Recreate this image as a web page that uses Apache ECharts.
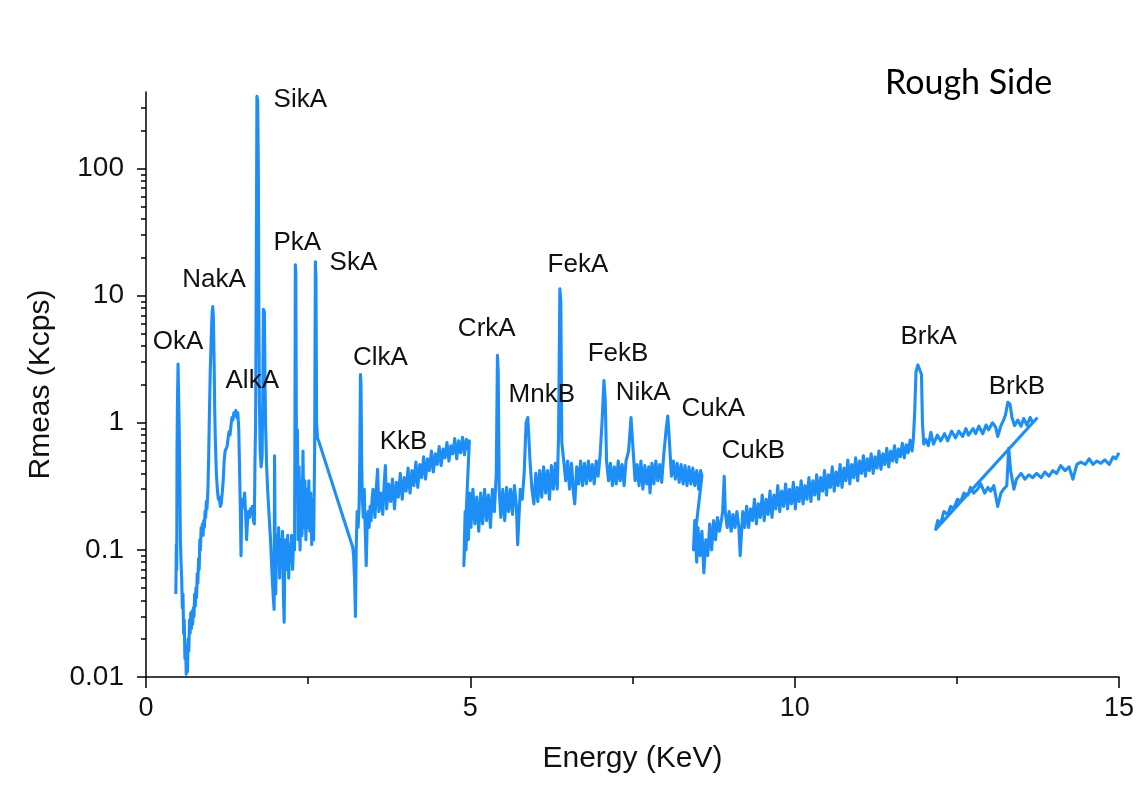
<!DOCTYPE html>
<html>
<head>
<meta charset="utf-8">
<script src="https://cdn.jsdelivr.net/npm/echarts@6/dist/echarts.min.js"></script>
<style>
html,body{margin:0;padding:0;background:#ffffff;}
#chart{width:1139px;height:804px;}
</style>
</head>
<body>
<div id="chart"></div>
<script>
// ---- data: [energy keV, Rmeas Kcps] ----
const scan1 = [
[0.46,0.045],[0.468,0.11],[0.474,0.07],[0.478,0.6],[0.484,1.3],[0.494,2.9],[0.505,2.8],[0.512,0.9],[0.52,0.4],[0.53,0.12],[0.54,0.08],[0.55,0.06],[0.56,0.035],[0.57,0.045],[0.58,0.022],[0.59,0.028],[0.60,0.014],[0.61,0.018],[0.62,0.0105],[0.63,0.015],[0.64,0.011],[0.65,0.02],[0.66,0.016],[0.67,0.028],[0.68,0.022],[0.69,0.032],[0.70,0.024],[0.71,0.033],[0.72,0.026],[0.73,0.035],[0.74,0.03],[0.75,0.045],[0.76,0.036],[0.77,0.05],[0.78,0.042],[0.79,0.065],[0.80,0.055],[0.81,0.085],[0.82,0.07],[0.83,0.12],[0.84,0.1],[0.85,0.15],[0.86,0.13],[0.87,0.16],[0.88,0.13],[0.89,0.17],[0.90,0.15],[0.91,0.2],[0.92,0.18],[0.93,0.24],[0.94,0.21],[0.955,0.3],[0.965,0.5],[0.975,1.0],[0.99,2.5],[1.005,4.5],[1.02,7.5],[1.03,8.2],[1.04,6.5],[1.05,3.0],[1.06,1.2],[1.07,0.7],[1.085,0.4],[1.10,0.3],[1.115,0.25],[1.13,0.26],[1.145,0.22],[1.16,0.23],[1.175,0.28],[1.19,0.35],[1.205,0.5],[1.22,0.6],[1.235,0.58],[1.25,0.65],[1.265,0.75],[1.28,0.85],[1.295,0.8],[1.31,0.95],[1.325,1.1],[1.34,1.05],[1.355,1.2],[1.37,1.15],[1.385,1.25],[1.40,1.1],[1.415,1.2],[1.43,0.9],[1.44,0.5],[1.455,0.2],[1.465,0.09],[1.475,0.2],[1.49,0.25],[1.505,0.22],[1.52,0.28],[1.535,0.2],[1.55,0.12],[1.565,0.17],[1.58,0.2],[1.595,0.18],[1.61,0.21],[1.625,0.2],[1.64,0.22],[1.655,0.17],[1.67,0.16],[1.68,0.5],[1.69,1.0],[1.70,15],[1.71,370],[1.722,340],[1.732,100],[1.74,8],[1.748,1.5],[1.76,0.6],[1.775,0.45],[1.79,0.55],[1.80,1.5],[1.81,7.8],[1.825,7.5],[1.835,2],[1.845,0.9],[1.86,0.45],[1.875,0.3],[1.89,0.22],[1.905,0.16],[1.92,0.12],[1.935,0.08],[1.95,0.055],[1.965,0.04],
[1.975,0.034],[1.982,0.55],[1.99,0.12],[2.00,0.045],[2.015,0.13],[2.03,0.08],[2.045,0.15],[2.06,0.06],[2.075,0.12],[2.09,0.09],[2.105,0.14],[2.12,0.04],[2.13,0.027],[2.14,0.09],[2.155,0.12],[2.17,0.07],[2.185,0.13],[2.20,0.06],[2.215,0.11],[2.23,0.08],[2.245,0.13],[2.26,0.07],[2.275,0.12],[2.29,0.1],[2.295,0.6],[2.302,17.5],[2.31,15],[2.318,0.9],[2.325,0.3],[2.335,0.88],[2.345,0.12],[2.36,0.45],[2.375,0.1],[2.39,0.35],[2.405,0.13],[2.42,0.6],[2.435,0.15],[2.45,0.35],[2.465,0.12],[2.48,0.3],[2.495,0.15],[2.51,0.35],[2.525,0.14],[2.54,0.28],[2.555,0.11],[2.57,0.25],[2.585,0.12],[2.60,0.6],[2.611,18.5],[2.62,14],[2.63,1.0],[2.645,0.75],[2.662,0.72],
[3.187,0.105],[3.20,0.09],[3.215,0.06],[3.229,0.03],[3.24,0.1],[3.255,0.2],[3.27,0.15],[3.285,0.22],[3.295,0.5],[3.306,2.4],[3.315,2.0],[3.325,0.5],[3.335,0.25],[3.35,0.18],[3.365,0.3],[3.38,0.14],[3.395,0.075],[3.41,0.16],[3.425,0.2],[3.44,0.15],[3.455,0.22],[3.47,0.17],[3.485,0.25],
[3.50,0.3],[3.53,0.18],[3.55,0.3],[3.57,0.43],[3.59,0.2],[3.62,0.28],[3.65,0.19],[3.67,0.32],[3.69,0.46],[3.71,0.21],[3.74,0.33],[3.77,0.24],[3.80,0.36],[3.83,0.21],[3.86,0.34],[3.89,0.26],[3.92,0.4],[3.95,0.25],[3.98,0.37],[4.01,0.29],[4.04,0.44],[4.07,0.28],[4.10,0.42],[4.13,0.32],[4.16,0.49],[4.19,0.31],[4.22,0.47],[4.25,0.37],[4.28,0.54],[4.31,0.36],[4.34,0.52],[4.37,0.42],[4.40,0.6],[4.43,0.41],[4.46,0.57],[4.49,0.47],[4.52,0.65],[4.55,0.46],[4.58,0.62],[4.61,0.53],[4.64,0.7],[4.67,0.5],[4.70,0.66],[4.73,0.57],[4.76,0.75],[4.79,0.52],[4.82,0.72],[4.85,0.58],[4.88,0.77],[4.91,0.56],[4.94,0.74],[4.96,0.62],[4.985,0.72],
[4.90,0.075],[4.92,0.2],[4.935,0.1],[4.95,0.25],[4.97,0.12],[4.99,0.28],[5.01,0.15],[5.04,0.3],[5.07,0.16],[5.10,0.26],[5.13,0.14],[5.16,0.28],[5.19,0.16],[5.22,0.3],[5.25,0.17],[5.28,0.27],[5.31,0.15],[5.34,0.3],[5.37,0.2],[5.40,0.4],[5.418,3.4],[5.43,2.5],[5.445,0.3],[5.47,0.18],[5.50,0.3],[5.53,0.17],[5.56,0.31],[5.59,0.2],[5.62,0.3],[5.65,0.19],[5.68,0.32],[5.71,0.22],[5.73,0.11],[5.77,0.3],[5.80,0.25],[5.83,0.4],[5.86,1.0],[5.886,1.1],[5.90,0.8],[5.92,0.5],[5.95,0.3],[5.98,0.23],[6.01,0.4],[6.04,0.24],[6.07,0.42],[6.10,0.26],[6.13,0.45],[6.16,0.28],[6.19,0.42],[6.22,0.25],[6.25,0.46],[6.28,0.3],[6.31,0.48],[6.34,0.3],[6.36,0.8],[6.38,11.3],[6.395,9],[6.41,0.7],[6.44,0.5],[6.47,0.35],[6.50,0.5],[6.53,0.3],[6.56,0.48],[6.59,0.28],[6.61,0.23],[6.64,0.45],[6.67,0.33],[6.70,0.5],[6.73,0.32],[6.76,0.48],[6.79,0.33],[6.82,0.5],[6.85,0.35],[6.88,0.47],[6.91,0.33],[6.94,0.5],[6.97,0.38],[7.00,0.55],[7.03,1.0],[7.06,2.15],[7.08,1.5],[7.10,0.5],[7.13,0.35],[7.16,0.48],[7.19,0.32],[7.22,0.45],[7.25,0.33],[7.28,0.5],[7.31,0.35],[7.34,0.47],[7.37,0.32],[7.40,0.5],[7.44,0.6],[7.477,1.1],[7.51,0.6],[7.54,0.35],[7.57,0.47],[7.60,0.32],[7.63,0.5],[7.66,0.3],[7.69,0.46],[7.72,0.33],[7.75,0.45],[7.77,0.28],[7.80,0.48],[7.83,0.33],[7.86,0.5],[7.89,0.35],[7.92,0.47],[7.95,0.34],[7.98,0.55],[8.02,0.9],[8.044,1.13],[8.07,0.7],[8.10,0.38],[8.13,0.5],[8.16,0.36],[8.19,0.48],[8.22,0.34],[8.25,0.47],[8.28,0.33],[8.31,0.46],[8.34,0.32],[8.37,0.45],[8.40,0.33],[8.43,0.44],[8.46,0.32],[8.49,0.42],[8.52,0.3],[8.55,0.42],[8.57,0.38],
[8.44,0.1],[8.46,0.17],[8.49,0.08],[8.51,0.15],[8.54,0.09],[8.57,0.14],[8.60,0.066],[8.63,0.12],[8.66,0.09],[8.69,0.16],[8.72,0.1],[8.75,0.17],[8.78,0.12],[8.81,0.18],[8.84,0.14],[8.87,0.17],[8.89,0.2],[8.914,0.38],[8.93,0.2],[8.96,0.15],[8.99,0.2],[9.02,0.14],[9.05,0.19],[9.08,0.15],[9.11,0.2],[9.14,0.15],[9.16,0.09],[9.20,0.2],[9.23,0.15],
[9.26,0.22],[9.29,0.15],[9.32,0.21],[9.35,0.17],[9.38,0.25],[9.41,0.16],[9.44,0.23],[9.47,0.18],[9.50,0.27],[9.53,0.17],[9.56,0.25],[9.59,0.19],[9.62,0.29],[9.65,0.18],[9.68,0.27],[9.71,0.21],[9.74,0.32],[9.77,0.2],[9.80,0.29],[9.83,0.22],[9.86,0.33],[9.89,0.21],[9.92,0.3],[9.95,0.23],[9.98,0.34],[10.01,0.21],[10.04,0.31],[10.07,0.24],[10.10,0.35],[10.13,0.23],[10.16,0.32],[10.19,0.25],[10.22,0.37],[10.25,0.24],[10.28,0.35],[10.31,0.27],[10.34,0.39],[10.37,0.25],[10.40,0.37],[10.43,0.29],[10.46,0.42],[10.49,0.27],[10.52,0.39],[10.55,0.31],[10.58,0.45],[10.61,0.29],[10.64,0.41],[10.67,0.32],[10.70,0.47],[10.73,0.31],[10.76,0.44],[10.79,0.35],[10.82,0.51],[10.85,0.33],[10.88,0.47],[10.91,0.37],[10.94,0.53],[10.97,0.35],[11.00,0.5],[11.03,0.4],[11.06,0.55],[11.09,0.38],[11.12,0.52],[11.15,0.42],[11.18,0.57],[11.21,0.4],[11.24,0.54],[11.27,0.44],[11.30,0.6],[11.33,0.43],[11.36,0.57],[11.39,0.47],[11.42,0.63],[11.45,0.45],[11.48,0.6],[11.51,0.5],[11.54,0.66],[11.57,0.49],[11.60,0.62],[11.63,0.54],[11.66,0.69],[11.69,0.53],[11.72,0.67],[11.75,0.58],[11.78,0.73],[11.81,0.6],[11.83,0.75],
[11.85,1.2],[11.87,2.5],[11.90,2.85],[11.93,2.75],[11.955,2.4],[11.97,1.0],[11.99,0.68],
[12.02,0.74],[12.06,0.66],[12.10,0.84],[12.14,0.68],[12.20,0.8],[12.25,0.72],[12.31,0.82],[12.36,0.72],[12.42,0.86],[12.48,0.76],[12.53,0.86],[12.59,0.78],[12.64,0.9],[12.68,0.8],[12.75,0.9],[12.79,0.82],[12.84,0.94],[12.90,0.82],[12.95,0.96],[12.99,0.88],[13.05,1.0],[13.10,0.92],[13.13,0.78],[13.18,0.95],[13.22,1.05],[13.25,1.15],[13.286,1.45],[13.32,1.4],[13.35,1.1],[13.39,0.95],[13.44,1.05],[13.49,0.94],[13.53,1.08],[13.58,0.96],[13.63,1.1],[13.67,1.0],[13.73,1.08]
];
const scan2 = [
[12.174,0.145],[12.205,0.17],[12.25,0.16],[12.30,0.2],[12.36,0.19],[12.405,0.22],[12.45,0.21],[12.51,0.25],[12.56,0.24],[12.61,0.28],[12.67,0.27],[12.71,0.31],[12.76,0.28],[12.82,0.3],[12.87,0.33],[12.93,0.28],[12.98,0.31],[13.02,0.29],[13.07,0.32],[13.13,0.22],[13.18,0.28],[13.22,0.3],[13.27,0.32],[13.30,0.63],[13.33,0.42],[13.38,0.3],[13.42,0.36],[13.49,0.4],[13.55,0.36],[13.61,0.39],[13.67,0.37],[13.73,0.4],[13.80,0.37],[13.86,0.41],[13.92,0.38],[13.98,0.42],[14.04,0.4],[14.10,0.46],[14.17,0.42],[14.23,0.45],[14.29,0.36],[14.35,0.47],[14.41,0.49],[14.48,0.47],[14.54,0.52],[14.60,0.47],[14.66,0.5],[14.72,0.48],[14.78,0.51],[14.85,0.47],[14.91,0.54],[14.95,0.52],[15.00,0.58]
];
// peak annotations (label centre in data units)
const peakNames  = ['OkA','NakA','AlkA','SikA','PkA','SkA','ClkA','KkB','CrkA','MnkB','FekA','FekB','NikA','CukA','CukB','BrkA','BrkB'];
const peakEnergy = [0.494,1.05,1.638,2.379,2.333,3.198,3.615,3.970,5.253,6.102,6.659,7.277,7.663,8.744,9.362,12.066,13.425];
const peakValue  = [4.34,13.4,2.14,349,26.1,18.2,3.25,0.708,5.50,1.66,17.5,3.49,1.72,1.29,0.603,4.75,1.92];
// axes
const xMin = 0, xMax = 15, xInterval = 5;
const yMin = 0.01, yMax = 400;
const yMajorTicks = [0.01,0.1,1,10,100];
const yTickLabels = ['0.01','0.1','1','10','100'];
const yMinorTicks = [0.02,0.03,0.04,0.05,0.06,0.07,0.08,0.09,0.2,0.3,0.4,0.5,0.6,0.7,0.8,0.9,2,3,4,5,6,7,8,9,20,30,40,50,60,70,80,90,200,300];
const titleText = 'Rough Side';

const chart = echarts.init(document.getElementById('chart'), null, {renderer:'canvas'});
const font = 'Liberation Sans, Arial, sans-serif';
const black = '#000000';
const logMaj = yMajorTicks.map(v => Math.log10(v));
const logMin = yMinorTicks.map(v => Math.log10(v));
const helperY = (ticks, len, labels) => ({
  type:'value', position:'left', min:Math.log10(yMin), max:Math.log10(yMax),
  axisLine:{show:false}, splitLine:{show:false},
  axisTick:{show:true, customValues:ticks, length:len, lineStyle:{color:black, width:1.5}},
  axisLabel: labels ? {show:true, customValues:ticks, margin:22, fontSize:28, fontFamily:font, color:'#111',
    formatter:(v)=>{ let best=0; logMaj.forEach((t,i)=>{ if (Math.abs(t-v) < Math.abs(logMaj[best]-v)) best=i; }); return yTickLabels[best]; }} : {show:false}
});

chart.setOption({
  backgroundColor:'#ffffff',
  animation:false,
  title:{text:titleText, left:880, top:61, textStyle:{fontFamily:'Lato, Carlito, sans-serif', fontSize:34, fontWeight:'normal', color:'#000'}},
  grid:{left:146, right:20, top:92, bottom:127, containLabel:false},
  xAxis:[{
    type:'value', min:xMin, max:xMax, interval:xInterval,
    name:'Energy (KeV)', nameLocation:'middle', nameGap:67,
    nameTextStyle:{fontSize:30, fontFamily:font, color:'#111'},
    axisLine:{show:true, onZero:false, lineStyle:{color:black, width:1.5}},
    axisTick:{show:true, length:11, lineStyle:{color:black, width:1.5}},
    minorTick:{show:true, splitNumber:2, length:7, lineStyle:{color:black, width:1.5}},
    axisLabel:{margin:18, fontSize:27, fontFamily:font, color:'#111'},
    splitLine:{show:false}
  }],
  yAxis:[
    {type:'log', logBase:10, min:yMin, max:yMax, position:'left',
     name:'Rmeas (Kcps)', nameLocation:'middle', nameGap:90,
     nameTextStyle:{fontSize:30, fontFamily:font, color:'#111'},
     axisLine:{show:true, onZero:false, lineStyle:{color:black, width:1.5}},
     axisTick:{show:false}, axisLabel:{show:false}, splitLine:{show:false}, minorTick:{show:false}},
    helperY(logMaj, 9, true),
    helperY(logMin, 5, false)
  ],
  series:[
    {type:'line', name:'spectrum', xAxisIndex:0, yAxisIndex:0,
     data: scan1.concat(scan2), showSymbol:false, symbol:'none',
     lineStyle:{color:'#1e8ef7', width:3.1, join:'round'}, itemStyle:{color:'#1e8ef7'},
     silent:true, clip:true},
    {type:'scatter', name:'peaks', xAxisIndex:0, yAxisIndex:0, silent:true, z:5,
     symbolSize:0, itemStyle:{color:'#000000'},
     data: peakNames.map((n,i)=>({name:n, value:[peakEnergy[i], peakValue[i]]})),
     label:{show:true, position:'inside', formatter:'{b}', fontSize:26, fontFamily:font,
            color:'#111111', opacity:1, textBorderWidth:0, textShadowBlur:0}}
  ]
});
</script>
</body>
</html>
